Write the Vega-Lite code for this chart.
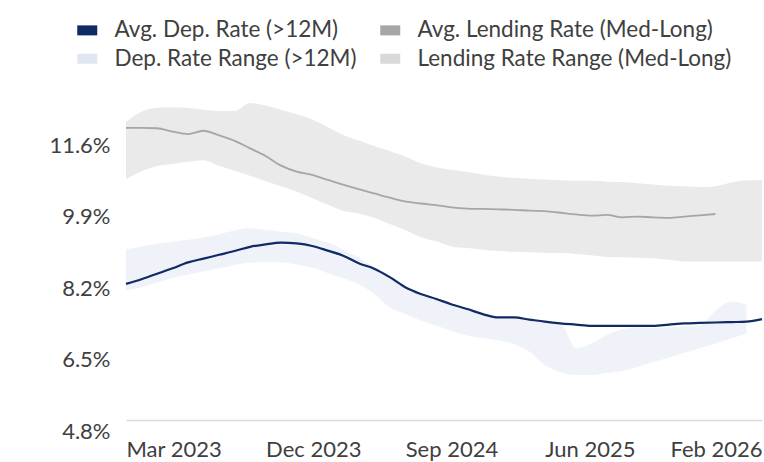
{
  "$schema": "https://vega.github.io/schema/vega-lite/v6.json",
  "width": 636,
  "height": 328,
  "autosize": {"type": "none"},
  "padding": {"left": 126, "top": 103, "right": 2, "bottom": 31},
  "config": {"view": {"stroke": null}, "font": "Lato"},
  "datasets": {
    "dep": [
      {"i": 0, "avg": 8.30, "lo": 8.15, "hi": 9.12},
      {"i": 1, "avg": 8.41, "lo": 8.22, "hi": 9.19},
      {"i": 2, "avg": 8.54, "lo": 8.33, "hi": 9.25},
      {"i": 3, "avg": 8.67, "lo": 8.44, "hi": 9.30},
      {"i": 4, "avg": 8.81, "lo": 8.52, "hi": 9.35},
      {"i": 5, "avg": 8.90, "lo": 8.60, "hi": 9.40},
      {"i": 6, "avg": 8.99, "lo": 8.67, "hi": 9.48},
      {"i": 7, "avg": 9.08, "lo": 8.75, "hi": 9.57},
      {"i": 8, "avg": 9.18, "lo": 8.80, "hi": 9.62},
      {"i": 9, "avg": 9.24, "lo": 8.81, "hi": 9.58},
      {"i": 10, "avg": 9.28, "lo": 8.81, "hi": 9.54},
      {"i": 11, "avg": 9.26, "lo": 8.76, "hi": 9.50},
      {"i": 12, "avg": 9.20, "lo": 8.69, "hi": 9.39},
      {"i": 13, "avg": 9.09, "lo": 8.56, "hi": 9.28},
      {"i": 14, "avg": 8.97, "lo": 8.43, "hi": 9.11},
      {"i": 15, "avg": 8.79, "lo": 8.29, "hi": 8.92},
      {"i": 16, "avg": 8.66, "lo": 8.06, "hi": 8.70},
      {"i": 17, "avg": 8.46, "lo": 7.74, "hi": 8.49},
      {"i": 18, "avg": 8.22, "lo": 7.58, "hi": 8.25},
      {"i": 19, "avg": 8.06, "lo": 7.43, "hi": 8.08},
      {"i": 20, "avg": 7.94, "lo": 7.30, "hi": 7.96},
      {"i": 21, "avg": 7.81, "lo": 7.18, "hi": 7.83},
      {"i": 22, "avg": 7.70, "lo": 7.07, "hi": 7.70},
      {"i": 23, "avg": 7.58, "lo": 7.01, "hi": 7.58},
      {"i": 24, "avg": 7.50, "lo": 6.96, "hi": 7.51},
      {"i": 25, "avg": 7.50, "lo": 6.87, "hi": 7.50},
      {"i": 26, "avg": 7.45, "lo": 6.69, "hi": 7.45},
      {"i": 27, "avg": 7.40, "lo": 6.37, "hi": 7.40},
      {"i": 28, "avg": 7.36, "lo": 6.20, "hi": 7.36},
      {"i": 29, "avg": 7.33, "lo": 6.13, "hi": 6.77},
      {"i": 30, "avg": 7.30, "lo": 6.13, "hi": 6.88},
      {"i": 31, "avg": 7.30, "lo": 6.18, "hi": 7.08},
      {"i": 32, "avg": 7.30, "lo": 6.23, "hi": 7.22},
      {"i": 33, "avg": 7.30, "lo": 6.33, "hi": 7.26},
      {"i": 34, "avg": 7.30, "lo": 6.44, "hi": 7.25},
      {"i": 35, "avg": 7.33, "lo": 6.55, "hi": 7.26},
      {"i": 36, "avg": 7.36, "lo": 6.66, "hi": 7.29},
      {"i": 37, "avg": 7.37, "lo": 6.77, "hi": 7.31},
      {"i": 38, "avg": 7.38, "lo": 6.88, "hi": 7.66},
      {"i": 39, "avg": 7.39, "lo": 7.00, "hi": 7.88},
      {"i": 40, "avg": 7.40, "lo": 7.12, "hi": 7.80},
      {"i": 41, "avg": 7.46, "lo": null, "hi": null}
    ],
    "lend": [
      {"i": 0, "avg": 12.01, "lo": 10.79, "hi": 12.15},
      {"i": 1, "avg": 12.01, "lo": 10.97, "hi": 12.39},
      {"i": 2, "avg": 12.00, "lo": 11.10, "hi": 12.49},
      {"i": 3, "avg": 11.92, "lo": 11.15, "hi": 12.50},
      {"i": 4, "avg": 11.86, "lo": 11.20, "hi": 12.48},
      {"i": 5, "avg": 11.94, "lo": 11.24, "hi": 12.44},
      {"i": 6, "avg": 11.83, "lo": 11.10, "hi": 12.41},
      {"i": 7, "avg": 11.70, "lo": 10.99, "hi": 12.41},
      {"i": 8, "avg": 11.52, "lo": 10.87, "hi": 12.60},
      {"i": 9, "avg": 11.34, "lo": 10.74, "hi": 12.54},
      {"i": 10, "avg": 11.11, "lo": 10.62, "hi": 12.44},
      {"i": 11, "avg": 10.97, "lo": 10.49, "hi": 12.33},
      {"i": 12, "avg": 10.89, "lo": 10.34, "hi": 12.21},
      {"i": 13, "avg": 10.77, "lo": 10.18, "hi": 12.03},
      {"i": 14, "avg": 10.66, "lo": 10.04, "hi": 11.84},
      {"i": 15, "avg": 10.55, "lo": 9.97, "hi": 11.71},
      {"i": 16, "avg": 10.45, "lo": 9.87, "hi": 11.58},
      {"i": 17, "avg": 10.35, "lo": 9.72, "hi": 11.46},
      {"i": 18, "avg": 10.26, "lo": 9.58, "hi": 11.33},
      {"i": 19, "avg": 10.21, "lo": 9.41, "hi": 11.17},
      {"i": 20, "avg": 10.17, "lo": 9.31, "hi": 11.07},
      {"i": 21, "avg": 10.12, "lo": 9.19, "hi": 11.01},
      {"i": 22, "avg": 10.09, "lo": 9.15, "hi": 10.96},
      {"i": 23, "avg": 10.08, "lo": 9.11, "hi": 10.90},
      {"i": 24, "avg": 10.07, "lo": 9.08, "hi": 10.85},
      {"i": 25, "avg": 10.06, "lo": 9.06, "hi": 10.82},
      {"i": 26, "avg": 10.04, "lo": 9.05, "hi": 10.80},
      {"i": 27, "avg": 10.03, "lo": 9.04, "hi": 10.78},
      {"i": 28, "avg": 9.99, "lo": 9.03, "hi": 10.76},
      {"i": 29, "avg": 9.95, "lo": 9.01, "hi": 10.75},
      {"i": 30, "avg": 9.92, "lo": 8.98, "hi": 10.75},
      {"i": 31, "avg": 9.94, "lo": 8.94, "hi": 10.73},
      {"i": 32, "avg": 9.88, "lo": 8.93, "hi": 10.72},
      {"i": 33, "avg": 9.90, "lo": 8.92, "hi": 10.69},
      {"i": 34, "avg": 9.88, "lo": 8.91, "hi": 10.66},
      {"i": 35, "avg": 9.87, "lo": 8.87, "hi": 10.63},
      {"i": 36, "avg": 9.90, "lo": 8.83, "hi": 10.62},
      {"i": 37, "avg": 9.93, "lo": 8.83, "hi": 10.60},
      {"i": 38, "avg": 9.96, "lo": 8.83, "hi": 10.62},
      {"i": 39, "avg": null, "lo": 8.83, "hi": 10.71},
      {"i": 40, "avg": null, "lo": 8.83, "hi": 10.76},
      {"i": 41, "avg": null, "lo": 8.83, "hi": 10.77}
    ]
  },
  "encoding": {
    "x": {
      "field": "i",
      "type": "quantitative",
      "title": null,
      "scale": {"domain": [0, 41], "nice": false, "zero": false},
      "axis": {
        "values": [0, 9, 18, 27, 41],
        "labelExpr": "datum.value == 0 ? 'Mar 2023' : datum.value == 9 ? 'Dec 2023' : datum.value == 18 ? 'Sep 2024' : datum.value == 27 ? 'Jun 2025' : 'Feb 2026'",
        "labelAlign": {"condition": {"test": "datum.value == 41", "value": "right"}, "value": "left"},
        "labelFlush": false,
        "labelOverlap": false,
        "labelBound": false,
        "ticks": false,
        "grid": false,
        "domainColor": "#d9d9d9",
        "domainWidth": 1.5,
        "offset": -11,
        "labelPadding": 19,
        "labelFontSize": 22,
        "labelColor": "#404040",
        "title": null
      }
    }
  },
  "layer": [
    {
      "data": {"name": "lend"},
      "transform": [{"filter": "isValid(datum.lo) && isValid(datum.hi)"}],
      "mark": {"type": "area", "opacity": 0.55, "interpolate": "monotone"},
      "encoding": {
        "y": {
          "field": "lo", "type": "quantitative", "title": null,
          "scale": {"domain": [4.8, 12.6], "nice": false, "zero": false},
          "axis": {
            "values": [4.8, 6.5, 8.2, 9.9, 11.6],
            "labelExpr": "format(datum.value, '.1f') + '%'",
            "domain": false, "ticks": false, "grid": false,
            "labelPadding": 16, "labelFontSize": 22, "labelColor": "#404040",
            "title": null
          }
        },
        "y2": {"field": "hi", "title": null},
        "color": {
          "datum": "Lending Rate Range (Med-Long)",
          "scale": {
            "domain": ["Avg. Dep. Rate (>12M)", "Dep. Rate Range (>12M)", "Avg. Lending Rate (Med-Long)", "Lending Rate Range (Med-Long)"],
            "range": ["#102a63", "#dfe6f2", "#a6a6a6", "#d9d9d9"]
          },
          "legend": {
            "orient": "none",
            "legendX": -50,
            "legendY": -84,
            "columns": 2,
            "title": null,
            "padding": 0,
            "symbolType": "M-1,-0.5H1V0.5H-1Z",
            "symbolSize": 400,
            "symbolOpacity": 1,
            "symbolStrokeWidth": 0,
            "labelFontSize": 22.5,
            "labelColor": "#404040",
            "labelOffset": 16,
            "labelLimit": 400,
            "columnPadding": 22,
            "rowPadding": 5.5,
            "encode": {"symbols": {"update": {"fill": {"scale": "color", "field": "value"}, "opacity": {"value": 1}, "strokeWidth": {"value": 0}}}}
          }
        }
      }
    },
    {
      "data": {"name": "dep"},
      "transform": [{"filter": "isValid(datum.lo) && isValid(datum.hi)"}],
      "mark": {"type": "area", "opacity": 0.5, "interpolate": "monotone"},
      "encoding": {
        "y": {"field": "lo", "type": "quantitative", "title": null},
        "y2": {"field": "hi", "title": null},
        "color": {"datum": "Dep. Rate Range (>12M)"}
      }
    },
    {
      "data": {"name": "lend"},
      "transform": [{"filter": "isValid(datum.avg)"}],
      "mark": {"type": "line", "strokeWidth": 1.8, "interpolate": "monotone"},
      "encoding": {
        "y": {"field": "avg", "type": "quantitative", "title": null},
        "color": {"datum": "Avg. Lending Rate (Med-Long)"}
      }
    },
    {
      "data": {"name": "dep"},
      "mark": {"type": "line", "strokeWidth": 2.2, "interpolate": "monotone"},
      "encoding": {
        "y": {"field": "avg", "type": "quantitative", "title": null},
        "color": {"datum": "Avg. Dep. Rate (>12M)"}
      }
    }
  ]
}
